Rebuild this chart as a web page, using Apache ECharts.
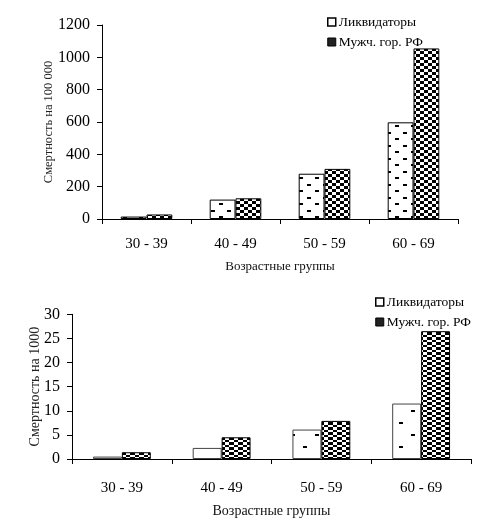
<!DOCTYPE html>
<html><head><meta charset="utf-8">
<script src="https://cdn.jsdelivr.net/npm/echarts@6/dist/echarts.min.js"></script>
<style>html,body{margin:0;padding:0;background:#fff}#c{width:499px;height:528px}</style>
</head><body><div id="c"></div>
<script>
const categories = ['30 - 39', '40 - 49', '50 - 59', '60 - 69'];
const seriesNames = ['Ликвидаторы', 'Мужч. гор. РФ'];
const topLiq = [15, 120, 280, 598];
const topMen = [28, 128, 310, 1055];
const botLiq = [0.5, 2.3, 6.1, 11.5];
const botMen = [1.4, 4.5, 7.9, 26.5];
const topTicks = { min: 0, max: 1200, interval: 200 };
const botTicks = { min: 0, max: 30, interval: 5 };

function pattern(w, h, rects) {
  const c = document.createElement('canvas');
  c.width = w; c.height = h;
  const g = c.getContext('2d');
  g.fillStyle = '#fff'; g.fillRect(0, 0, w, h);
  g.fillStyle = '#000';
  rects.forEach(r => g.fillRect(r[0], r[1], r[2], r[3]));
  return { image: c, repeat: 'repeat' };
}
const pTopLiq = pattern(16, 13, [[3, 2, 4, 2], [11, 8, 4, 2]]);
const pTopMen = pattern(8, 6, [[0, 0, 4, 3], [4, 3, 4, 3]]);
const pBotLiq = pattern(24, 24, [[3, 2, 4, 2], [15, 14, 4, 2]]);
const pBotMen = pattern(9, 5, [[0, 0, 4, 2], [4, 2, 5, 3]]);

const font = '"Liberation Serif", "Times New Roman", serif';
const chart = echarts.init(document.getElementById('c'), null, { renderer: 'canvas' });

function xAx(gi, gap, margin) {
  return {
    type: 'category', gridIndex: gi, data: categories,
    name: 'Возрастные группы', nameLocation: 'middle', nameGap: gap,
    nameTextStyle: { fontFamily: font, fontSize: gi ? 14 : 13, color: '#111' },
    axisLine: { lineStyle: { color: '#000', width: 1 } },
    axisTick: { show: true, length: 5, lineStyle: { color: '#000' } },
    axisLabel: { fontFamily: font, fontSize: 15, color: '#000', margin: margin },
    splitLine: { show: false }
  };
}
function yAx(gi, t, name, gap) {
  return {
    type: 'value', gridIndex: gi, min: t.min, max: t.max, interval: t.interval,
    name: name, nameLocation: 'middle', nameGap: gap, nameMoveOverlap: false,
    nameTextStyle: { fontFamily: font, fontSize: gi ? 14 : 12.5, color: '#222' },
    axisLine: { show: true, lineStyle: { color: '#000', width: 1 } },
    axisTick: { show: true, length: 5, lineStyle: { color: '#000' } },
    axisLabel: { fontFamily: font, fontSize: 16, color: '#000', margin: 12, formatter: v => String(v) },
    splitLine: { show: false }
  };
}
function bar(name, gi, data, fill, border) {
  return {
    type: 'bar', name: name, xAxisIndex: gi, yAxisIndex: gi, data: data,
    barGap: '0%', barCategoryGap: '42%',
    itemStyle: { color: fill, borderColor: border, borderWidth: 1 },
    emphasis: { disabled: true }, animation: false
  };
}
function legend(left, top, gap) {
  return {
    orient: 'vertical', left: left, top: top, itemWidth: 8, itemHeight: 8, itemGap: gap,
    selectedMode: false,
    textStyle: { fontFamily: font, fontSize: 13.5, color: '#000', padding: [0, 0, 0, -2] },
    data: [
      { name: seriesNames[0], icon: 'rect', itemStyle: { color: '#fff', borderColor: '#000', borderWidth: 1.5 } },
      { name: seriesNames[1], icon: 'rect', itemStyle: { color: '#222', borderColor: '#000', borderWidth: 1 } }
    ]
  };
}

chart.setOption({
  animation: false,
  grid: [
    { left: 102, top: 25, width: 356, height: 194 },
    { left: 72, top: 314.3, width: 399, height: 144.7 }
  ],
  legend: [legend(322, 10, 6), legend(370, 290, 6)],
  xAxis: [xAx(0, 41, 18), xAx(1, 45, 22)],
  yAxis: [yAx(0, topTicks, 'Смертность на 100 000', 47), yAx(1, botTicks, 'Смертность на 1000', 30)],
  series: [
    bar(seriesNames[0], 0, topLiq, pTopLiq, '#000'),
    bar(seriesNames[1], 0, topMen, pTopMen, '#000'),
    bar(seriesNames[0], 1, botLiq, pBotLiq, '#444'),
    bar(seriesNames[1], 1, botMen, pBotMen, '#000')
  ]
});
</script></body></html>
